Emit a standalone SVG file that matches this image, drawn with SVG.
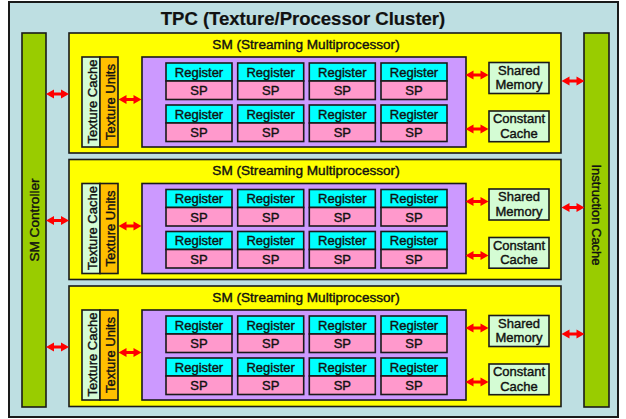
<svg xmlns="http://www.w3.org/2000/svg" xmlns:xlink="http://www.w3.org/1999/xlink" width="626" height="419" viewBox="0 0 626 419">
<style>
text{font-family:"Liberation Sans",Arial,sans-serif;font-size:13px;fill:#111;stroke:#111;stroke-width:0.4;text-anchor:middle}
.box{stroke:#1a1a1a;stroke-width:1.6}
.outer{fill:#BEDFE2;stroke:#1a1a1a;stroke-width:2}
.bar{fill:#99CC00}
.sm{fill:#FFFF00}
.core{fill:#CC99FF}
.reg{fill:#00FFFF}
.sp{fill:#FF99CC}
.lg{fill:#D4FCD4}
.tu{fill:#FFC000}
.title{font-size:18.5px;font-weight:bold;stroke-width:0.2}
.smt{font-size:13.6px}
.arrow{fill:#FF0000}
</style>
<defs>
<polygon id="arr" class="arrow" points="-11.5,0 -3.5,-4.5 -3.5,-1.5 3.5,-1.5 3.5,-4.5 11.5,0 3.5,4.5 3.5,1.5 -3.5,1.5 -3.5,4.5"/>
</defs>
<g id="tpc">
<rect class="outer" x="9" y="2" width="609" height="415"/>
<text class="title" x="303" y="25">TPC (Texture/Processor Cluster)</text>
</g>
<g id="sm-controller">
<rect class="box bar" x="22" y="33" width="24" height="374"/>
<text style="font-size:13.6px" transform="translate(39,220) rotate(-90)">SM Controller</text>
</g>
<g id="instruction-cache">
<rect class="box bar" x="584" y="33" width="25" height="374"/>
<text transform="translate(592,215) rotate(90)">Instruction Cache</text>
</g>

<g id="sm1" transform="translate(0,33)">
<rect class="box sm" x="69" y="0" width="492" height="120"/>
<text class="smt" x="306" y="15.5">SM (Streaming Multiprocessor)</text>
<g id="sm1-texcache"><rect class="box lg" x="82" y="24" width="18" height="90"/><text transform="translate(96.5,68.5) rotate(-90)">Texture Cache</text></g>
<g id="sm1-texunits"><rect class="box tu" x="100" y="24" width="18" height="90"/><text transform="translate(114.5,69) rotate(-90)">Texture Units</text></g>
<g id="sm1-cores">
<rect class="box core" x="142" y="24" width="324" height="90"/>
<rect class="box reg" x="166" y="30" width="66" height="18"/><rect class="box sp" x="166" y="48" width="66" height="18.5"/><text x="199" y="43.7">Register</text><text x="199" y="62">SP</text>
<rect class="box reg" x="237.7" y="30" width="66" height="18"/><rect class="box sp" x="237.7" y="48" width="66" height="18.5"/><text x="270.7" y="43.7">Register</text><text x="270.7" y="62">SP</text>
<rect class="box reg" x="309.3" y="30" width="66" height="18"/><rect class="box sp" x="309.3" y="48" width="66" height="18.5"/><text x="342.3" y="43.7">Register</text><text x="342.3" y="62">SP</text>
<rect class="box reg" x="381" y="30" width="66" height="18"/><rect class="box sp" x="381" y="48" width="66" height="18.5"/><text x="414" y="43.7">Register</text><text x="414" y="62">SP</text>
<rect class="box reg" x="166" y="72" width="66" height="18"/><rect class="box sp" x="166" y="90" width="66" height="18.5"/><text x="199" y="85.7">Register</text><text x="199" y="104">SP</text>
<rect class="box reg" x="237.7" y="72" width="66" height="18"/><rect class="box sp" x="237.7" y="90" width="66" height="18.5"/><text x="270.7" y="85.7">Register</text><text x="270.7" y="104">SP</text>
<rect class="box reg" x="309.3" y="72" width="66" height="18"/><rect class="box sp" x="309.3" y="90" width="66" height="18.5"/><text x="342.3" y="85.7">Register</text><text x="342.3" y="104">SP</text>
<rect class="box reg" x="381" y="72" width="66" height="18"/><rect class="box sp" x="381" y="90" width="66" height="18.5"/><text x="414" y="85.7">Register</text><text x="414" y="104">SP</text>
</g>
<g id="sm1-shared"><rect class="box lg" x="489" y="29.5" width="60" height="31"/><text x="519" y="41.7">Shared</text><text x="519" y="56.3">Memory</text></g>
<g id="sm1-const"><rect class="box lg" x="489" y="78" width="60" height="30.7"/><text x="519" y="90.3">Constant</text><text x="519" y="104.5">Cache</text></g>
</g>

<g id="sm2" transform="translate(0,159.5)">
<rect class="box sm" x="69" y="0" width="492" height="120"/>
<text class="smt" x="306" y="15.5">SM (Streaming Multiprocessor)</text>
<g id="sm2-texcache"><rect class="box lg" x="82" y="24" width="18" height="90"/><text transform="translate(96.5,68.5) rotate(-90)">Texture Cache</text></g>
<g id="sm2-texunits"><rect class="box tu" x="100" y="24" width="18" height="90"/><text transform="translate(114.5,69) rotate(-90)">Texture Units</text></g>
<g id="sm2-cores">
<rect class="box core" x="142" y="24" width="324" height="90"/>
<rect class="box reg" x="166" y="30" width="66" height="18"/><rect class="box sp" x="166" y="48" width="66" height="18.5"/><text x="199" y="43.7">Register</text><text x="199" y="62">SP</text>
<rect class="box reg" x="237.7" y="30" width="66" height="18"/><rect class="box sp" x="237.7" y="48" width="66" height="18.5"/><text x="270.7" y="43.7">Register</text><text x="270.7" y="62">SP</text>
<rect class="box reg" x="309.3" y="30" width="66" height="18"/><rect class="box sp" x="309.3" y="48" width="66" height="18.5"/><text x="342.3" y="43.7">Register</text><text x="342.3" y="62">SP</text>
<rect class="box reg" x="381" y="30" width="66" height="18"/><rect class="box sp" x="381" y="48" width="66" height="18.5"/><text x="414" y="43.7">Register</text><text x="414" y="62">SP</text>
<rect class="box reg" x="166" y="72" width="66" height="18"/><rect class="box sp" x="166" y="90" width="66" height="18.5"/><text x="199" y="85.7">Register</text><text x="199" y="104">SP</text>
<rect class="box reg" x="237.7" y="72" width="66" height="18"/><rect class="box sp" x="237.7" y="90" width="66" height="18.5"/><text x="270.7" y="85.7">Register</text><text x="270.7" y="104">SP</text>
<rect class="box reg" x="309.3" y="72" width="66" height="18"/><rect class="box sp" x="309.3" y="90" width="66" height="18.5"/><text x="342.3" y="85.7">Register</text><text x="342.3" y="104">SP</text>
<rect class="box reg" x="381" y="72" width="66" height="18"/><rect class="box sp" x="381" y="90" width="66" height="18.5"/><text x="414" y="85.7">Register</text><text x="414" y="104">SP</text>
</g>
<g id="sm2-shared"><rect class="box lg" x="489" y="29.5" width="60" height="31"/><text x="519" y="41.7">Shared</text><text x="519" y="56.3">Memory</text></g>
<g id="sm2-const"><rect class="box lg" x="489" y="78" width="60" height="30.7"/><text x="519" y="90.3">Constant</text><text x="519" y="104.5">Cache</text></g>
</g>

<g id="sm3" transform="translate(0,286)">
<rect class="box sm" x="69" y="0" width="492" height="120.5"/>
<text class="smt" x="306" y="15.5">SM (Streaming Multiprocessor)</text>
<g id="sm3-texcache"><rect class="box lg" x="82" y="24" width="18" height="90"/><text transform="translate(96.5,68.5) rotate(-90)">Texture Cache</text></g>
<g id="sm3-texunits"><rect class="box tu" x="100" y="24" width="18" height="90"/><text transform="translate(114.5,69) rotate(-90)">Texture Units</text></g>
<g id="sm3-cores">
<rect class="box core" x="142" y="24" width="324" height="90"/>
<rect class="box reg" x="166" y="30" width="66" height="18"/><rect class="box sp" x="166" y="48" width="66" height="18.5"/><text x="199" y="43.7">Register</text><text x="199" y="62">SP</text>
<rect class="box reg" x="237.7" y="30" width="66" height="18"/><rect class="box sp" x="237.7" y="48" width="66" height="18.5"/><text x="270.7" y="43.7">Register</text><text x="270.7" y="62">SP</text>
<rect class="box reg" x="309.3" y="30" width="66" height="18"/><rect class="box sp" x="309.3" y="48" width="66" height="18.5"/><text x="342.3" y="43.7">Register</text><text x="342.3" y="62">SP</text>
<rect class="box reg" x="381" y="30" width="66" height="18"/><rect class="box sp" x="381" y="48" width="66" height="18.5"/><text x="414" y="43.7">Register</text><text x="414" y="62">SP</text>
<rect class="box reg" x="166" y="72" width="66" height="18"/><rect class="box sp" x="166" y="90" width="66" height="18.5"/><text x="199" y="85.7">Register</text><text x="199" y="104">SP</text>
<rect class="box reg" x="237.7" y="72" width="66" height="18"/><rect class="box sp" x="237.7" y="90" width="66" height="18.5"/><text x="270.7" y="85.7">Register</text><text x="270.7" y="104">SP</text>
<rect class="box reg" x="309.3" y="72" width="66" height="18"/><rect class="box sp" x="309.3" y="90" width="66" height="18.5"/><text x="342.3" y="85.7">Register</text><text x="342.3" y="104">SP</text>
<rect class="box reg" x="381" y="72" width="66" height="18"/><rect class="box sp" x="381" y="90" width="66" height="18.5"/><text x="414" y="85.7">Register</text><text x="414" y="104">SP</text>
</g>
<g id="sm3-shared"><rect class="box lg" x="489" y="29.5" width="60" height="31"/><text x="519" y="41.7">Shared</text><text x="519" y="56.3">Memory</text></g>
<g id="sm3-const"><rect class="box lg" x="489" y="78" width="60" height="30.7"/><text x="519" y="90.3">Constant</text><text x="519" y="104.5">Cache</text></g>
</g>

<g id="connectors">
<use xlink:href="#arr" x="57.5" y="94"/>
<use xlink:href="#arr" x="130" y="99.5"/>
<use xlink:href="#arr" x="477" y="75"/>
<use xlink:href="#arr" x="477" y="129"/>
<use xlink:href="#arr" x="573" y="81"/>
<use xlink:href="#arr" x="57.5" y="220.5"/>
<use xlink:href="#arr" x="130" y="226"/>
<use xlink:href="#arr" x="477" y="201.5"/>
<use xlink:href="#arr" x="477" y="255.5"/>
<use xlink:href="#arr" x="573" y="207.5"/>
<use xlink:href="#arr" x="57.5" y="347"/>
<use xlink:href="#arr" x="130" y="352.5"/>
<use xlink:href="#arr" x="477" y="328"/>
<use xlink:href="#arr" x="477" y="382"/>
<use xlink:href="#arr" x="573" y="334"/>
</g>
</svg>
